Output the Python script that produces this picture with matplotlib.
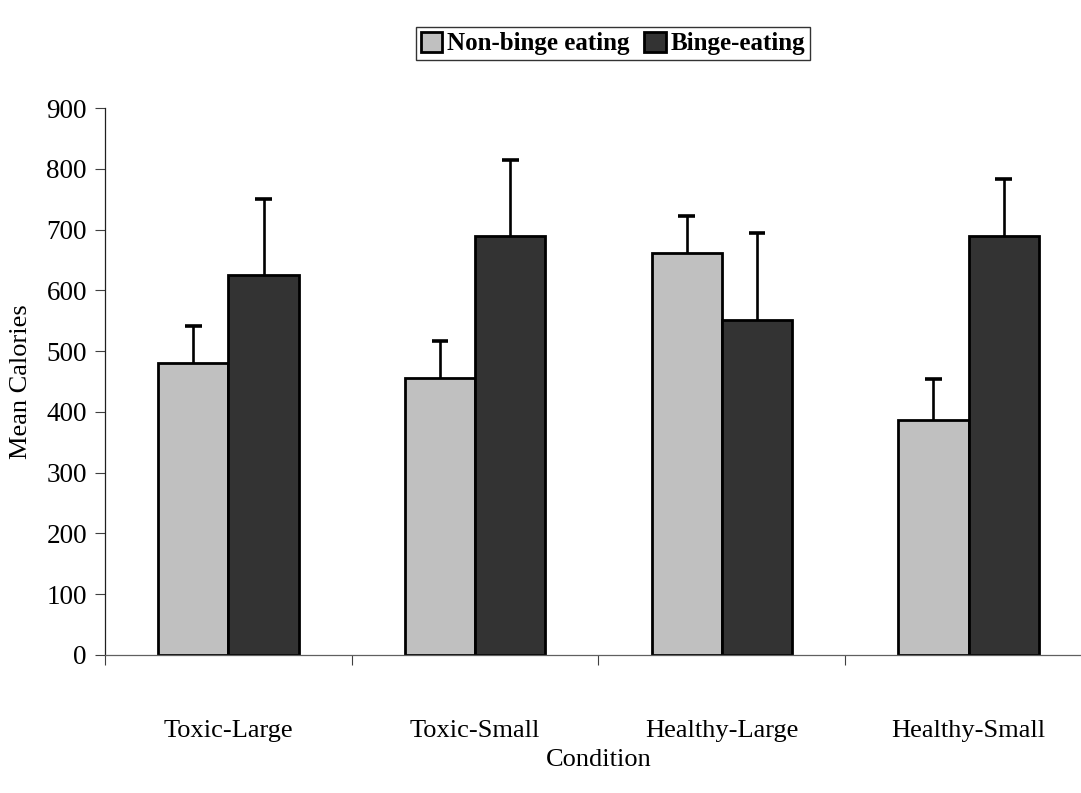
import matplotlib
matplotlib.use("Agg")
import matplotlib.pyplot as plt
import numpy as np

categories = ["Toxic-Large", "Toxic-Small", "Healthy-Large", "Healthy-Small"]
series_names = ["Non-binge eating", "Binge-eating"]
non_binge = [481, 456, 661, 387]
non_binge_err = [60, 60, 62, 67]
binge = [626, 690, 552, 690]
binge_err = [124, 124, 143, 94]
yticks = [0, 100, 200, 300, 400, 500, 600, 700, 800, 900]

plt.rcParams['font.family'] = ['Liberation Serif', 'DejaVu Serif']

fig = plt.figure(figsize=(10.81, 7.93), dpi=100)
W, H = 1081, 793
left, right, bottom, top = 105, 1092, 655, 108
ax = fig.add_axes([left / W, 1 - bottom / H, (right - left) / W, (bottom - top) / H])

x = np.arange(len(categories))
bw = 0.285
cap_half = 0.034
colors = ["#C0C0C0", "#333333"]
for i, (vals, errs) in enumerate([(non_binge, non_binge_err), (binge, binge_err)]):
    pos = x + (i - 0.5) * bw
    vals = np.array(vals)
    tops = vals + np.array(errs)
    ax.bar(pos, vals, width=bw, color=colors[i], edgecolor="black", linewidth=2.0,
           label=series_names[i], zorder=2)
    ax.vlines(pos, vals, tops, colors="black", linewidth=1.9, zorder=1)
    ax.hlines(tops, pos - cap_half, pos + cap_half, colors="black", linewidth=2.6, zorder=1)

ax.set_xlim(-0.5, len(categories) - 0.5)
ax.set_ylim(0, 900)
ax.set_yticks(yticks)
ax.set_yticklabels([str(v) for v in yticks], fontsize=19.5)

ax.set_xticks(np.arange(-0.5, len(categories), 1.0))
ax.set_xticklabels([])
ax.set_xticks(x, minor=True)
ax.set_xticklabels(categories, minor=True, fontsize=19)
ax.tick_params(axis="x", which="major", direction="out", length=7, width=0.8, color="#404040")
ax.tick_params(axis="x", which="minor", length=0, pad=47)
ax.tick_params(axis="y", direction="out", length=7, width=0.8, color="#404040", pad=6)

for s in ["top", "right"]:
    ax.spines[s].set_visible(False)
ax.spines["left"].set_color("#202020")
ax.spines["left"].set_linewidth(0.9)
ax.spines["bottom"].set_color("#606060")
ax.spines["bottom"].set_linewidth(0.9)
ax.spines["bottom"].set_clip_on(False)

ax.set_ylabel("Mean Calories", fontsize=19, labelpad=10)
ax.set_xlabel("Condition", fontsize=19, labelpad=5)

leg = fig.legend(loc="center", bbox_to_anchor=(613 / W, 1 - 43.5 / H), ncol=2,
                 prop={"weight": "bold", "size": 18}, frameon=True, fancybox=False,
                 edgecolor="black", handlelength=0.85, handleheight=0.85,
                 handletextpad=0.2, columnspacing=0.6, borderpad=0.2,
                 borderaxespad=0)
leg.get_frame().set_linewidth(1.0)

fig.savefig("out.png", dpi=100)
